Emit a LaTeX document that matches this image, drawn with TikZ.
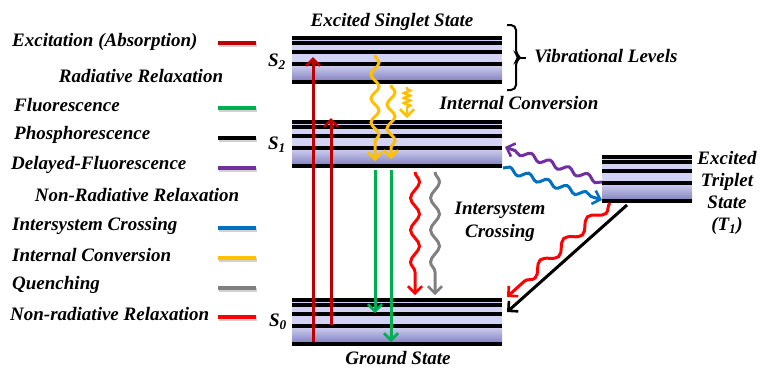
\documentclass[tikz,border=0pt]{standalone}
\usepackage{fontspec}
\setmainfont{Liberation Serif}
\usetikzlibrary{arrows.meta,decorations.pathmorphing}

\definecolor{absred}{HTML}{C00000}
\definecolor{flgreen}{HTML}{00B050}
\definecolor{dfpurple}{HTML}{7030A0}
\definecolor{iscblue}{HTML}{0070C0}
\definecolor{icyellow}{HTML}{FFC000}
\definecolor{qgray}{HTML}{808080}
\definecolor{nrred}{HTML}{FF0000}
\definecolor{bandlight}{HTML}{D2D2F4}
\definecolor{banddark}{HTML}{7E7EBC}

% one electronic state: five vibrational lines over a shaded band
\newcommand\vibstate[3]{%
  \fill[bandlight] (#1,#3) rectangle (#2,#3+26);
  \shade[top color=bandlight, bottom color=banddark] (#1,#3+26) rectangle (#2,#3+44);
  \foreach \d in {0,5,14,26,44} \draw[levelline] (#1,#3+\d) -- (#2,#3+\d);
}

\tikzset{
  lbl/.style={font=\fontsize{19}{21}\selectfont\bfseries\itshape, inner sep=0pt},
  levelline/.style={line width=3.2pt, black},
  trans/.style={line width=3pt, -{Straight Barb[length=7pt,width=14pt,line width=2.6pt]}},
  wavy/.style={decorate, decoration={snake, amplitude=#1, segment length=24pt, post length=10pt}},
  coil/.style={decorate, decoration={snake, amplitude=3.5pt, segment length=5pt, pre length=2pt, post length=10pt}},
  swatch/.style={line width=4.5pt},
}

\begin{document}
\begin{tikzpicture}[x=1pt,y=-1pt]
\useasboundingbox (0,0) rectangle (760,368);

% energy levels
\vibstate{292}{502}{38}
\vibstate{292}{502}{122}
\vibstate{292}{502}{300}
\vibstate{602}{692}{157}

% state labels
\node[lbl] (lS2) at (277,62) {S\textsubscript{2}};
\node[lbl] (lS1) at (277,145) {S\textsubscript{1}};
\node[lbl] (lS0) at (278,322) {S\textsubscript{0}};
\node[lbl] (tsing) at (392,22) {Excited Singlet State};
\node[lbl] (tic) at (519,103) {Internal Conversion};
\node[lbl] (tgnd) at (398,358) {Ground State};
\node[lbl] (tvib) at (606,56) {Vibrational Levels};
\node[lbl, align=center] (tisc) at (500,222) {Intersystem\\[2pt]Crossing};
\node[lbl, align=center, font=\fontsize{19}{22}\selectfont\bfseries\itshape] (ttrip) at (727,193)
  {Excited\\Triplet\\State\\(T\textsubscript{1})};

% brace over the vibrational levels
\draw[line width=2pt, rounded corners=5pt] (507,25) -- (516,25) -- (516,54) -- (520,57.5) -- (516,61) -- (516,90) -- (507,90);
\draw[line width=2pt] (518,57.5) -- (526,57.5);

% transition end points
\coordinate (exA0) at (313,342); \coordinate (exA1) at (313,57);
\coordinate (exB0) at (331,325); \coordinate (exB1) at (331,118);
\coordinate (icA0) at (375,55);  \coordinate (icA1) at (375,161);
\coordinate (icB0) at (391,85);  \coordinate (icB1) at (391,159);
\coordinate (icC0) at (407,87);  \coordinate (icC1) at (407,118);
\coordinate (flA0) at (375,170); \coordinate (flA1) at (375,313);
\coordinate (flB0) at (391,170); \coordinate (flB1) at (391,342);
\coordinate (nr0) at (415,172);  \coordinate (nr1) at (415,295);
\coordinate (qu0) at (435,172);  \coordinate (qu1) at (435,295);
\coordinate (df0) at (602,182);  \coordinate (df1) at (505,147);
\coordinate (isc0) at (503,168); \coordinate (isc1) at (602,200);
\coordinate (nrt0) at (610,203); \coordinate (nrt1) at (507,297);
\coordinate (ph0) at (627,205);  \coordinate (ph1) at (507,312);

% absorption
\draw[trans, absred] (exA0) -- (exA1);
\draw[trans, absred] (exB0) -- (exB1);
% internal conversion
\draw[trans, icyellow, wavy=4pt] (icA0) -- (icA1);
\draw[trans, icyellow, wavy=4pt] (icB0) -- (icB1);
\draw[trans, icyellow, line width=2.2pt, coil] (icC0) -- (icC1);
% fluorescence
\draw[trans, flgreen] (flA0) -- (flA1);
\draw[trans, flgreen] (flB0) -- (flB1);
% non-radiative relaxation and quenching
\draw[trans, nrred, decorate, decoration={snake, amplitude=4.5pt, segment length=32pt, post length=10pt}] (nr0) -- (nr1);
\draw[trans, qgray, decorate, decoration={snake, amplitude=4.5pt, segment length=32pt, post length=10pt}] (qu0) -- (qu1);
% delayed fluorescence and intersystem crossing
\draw[trans, dfpurple, decorate, decoration={snake, amplitude=3pt, segment length=20pt, post length=10pt}] (df0) -- (df1);
\draw[trans, iscblue, decorate, decoration={snake, amplitude=3pt, segment length=20pt, post length=10pt}] (isc0) -- (isc1);
% triplet decay
\draw[trans, nrred, decorate, decoration={snake, amplitude=5pt, segment length=32pt, post length=10pt}] (nrt0) -- (nrt1);
\draw[trans, black] (ph0) -- (ph1);

% legend
\node[lbl, anchor=west] (lgA) at (12,42) {Excitation (Absorption)};
\node[lbl] (lgR) at (141,76) {Radiative Relaxation};
\node[lbl, anchor=west] (lgF) at (14,105) {Fluorescence};
\node[lbl, anchor=west] (lgP) at (14,135) {Phosphorescence};
\node[lbl, anchor=west] (lgD) at (11,165) {Delayed-Fluorescence};
\node[lbl] (lgN) at (137,195) {Non-Radiative Relaxation};
\node[lbl, anchor=west] (lgI) at (12,226) {Intersystem Crossing};
\node[lbl, anchor=west] (lgC) at (12,255) {Internal Conversion};
\node[lbl, anchor=west] (lgQ) at (12,285) {Quenching};
\node[lbl, anchor=west] (lgX) at (10,314) {Non-radiative Relaxation};

\foreach \y/\c in {43/absred,108/flgreen,138/black,168/dfpurple,228/iscblue,258/icyellow,288/qgray,317/nrred}{
  \draw[swatch, black!18] (219,\y+2) -- (257,\y+2);
  \draw[swatch, \c] (218,\y) -- (256,\y);
}
\end{tikzpicture}
\end{document}
